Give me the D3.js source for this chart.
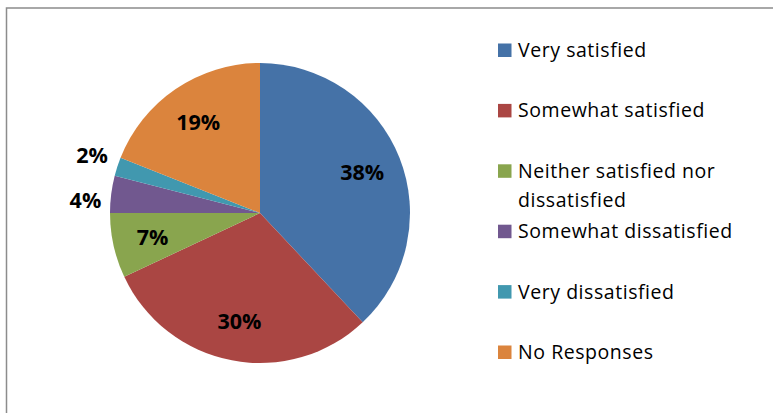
<!DOCTYPE html>
<html>
<head>
<meta charset="utf-8">
<script src="https://cdn.jsdelivr.net/npm/d3@7"></script>
<style>
  html, body { margin: 0; padding: 0; background: #fff; }
  svg { display: block; }
  text { font-variant-ligatures: none; }
</style>
</head>
<body>
<svg id="chart" width="773" height="413"></svg>
<script>
// Survey responses (percent of respondents)
const categories = [
  "Very satisfied",
  "Somewhat satisfied",
  "Neither satisfied nor dissatisfied",
  "Somewhat dissatisfied",
  "Very dissatisfied",
  "No Responses"
];
const values = [38, 30, 7, 4, 2, 19];
const colors = ["#4572A7", "#AA4643", "#89A54E", "#71588F", "#4198AF", "#DB843D"];
// Legend lines (long names wrap onto two lines)
const legendLines = [
  ["Very satisfied"],
  ["Somewhat satisfied"],
  ["Neither satisfied nor", "dissatisfied"],
  ["Somewhat dissatisfied"],
  ["Very dissatisfied"],
  ["No Responses"]
];

const svg = d3.select("#chart");

// Chart area frame (runs off the right and bottom edges)
svg.append("rect")
  .attr("x", 6.5).attr("y", 8)
  .attr("width", 900).attr("height", 600)
  .attr("fill", "none")
  .attr("stroke", "#8c8c8c")
  .attr("stroke-width", 1.5);

const cx = 260, cy = 213, R = 150;
const data = categories.map((c, i) => ({ name: c, value: values[i], color: colors[i] }));

const pie = d3.pie().value(d => d.value).sort(null);
const arcs = pie(data);
const arc = d3.arc().innerRadius(0).outerRadius(R);
const labelArc = d3.arc().innerRadius(110).outerRadius(110);
const outerArc = d3.arc().innerRadius(R + 10).outerRadius(R + 10);

const g = svg.append("g").attr("transform", `translate(${cx},${cy})`);

g.selectAll("path.slice")
  .data(arcs)
  .join("path")
  .attr("class", "slice")
  .attr("d", arc)
  .attr("fill", d => d.data.color);

// Labels: inside for large slices, outside for small ones
const labelFont = "'Open Sans', Lato, sans-serif";
const labels = arcs.map(d => {
  const small = d.data.value < 5;
  const [x, y] = small ? outerArc.centroid(d) : labelArc.centroid(d);
  return { d, small, x, y };
});

// Keep outside labels from overlapping vertically
const outside = labels.filter(l => l.small).sort((a, b) => a.y - b.y);
const minGap = 45;
for (let i = 1; i < outside.length; i++) {
  const a = outside[i - 1], b = outside[i];
  if (b.y - a.y < minGap) {
    const mid = (a.y + b.y) / 2;
    a.y = mid - minGap / 2;
    b.y = mid + minGap / 2;
  }
}

g.selectAll("text.pct")
  .data(labels)
  .join("text")
  .attr("class", "pct")
  .attr("x", l => l.x)
  .attr("y", l => l.y)
  .attr("dy", "0.35em")
  .attr("text-anchor", l => l.small ? "end" : "middle")
  .attr("font-family", labelFont)
  .attr("font-weight", "bold")
  .attr("font-size", 21.5)
  .attr("fill", "#000")
  .text(l => l.d.data.value + "%");

// Legend
const legend = svg.append("g").attr("transform", "translate(498,0)");
const rowY = d3.scaleLinear().domain([0, 5]).range([57, 359]);

const items = legend.selectAll("g.item")
  .data(data)
  .join("g")
  .attr("class", "item")
  .attr("transform", (d, i) => `translate(0,${rowY(i)})`);

items.append("rect")
  .attr("x", 0).attr("y", -13.5)
  .attr("width", 13.5).attr("height", 13.5)
  .attr("fill", d => d.color);

items.append("text")
  .attr("x", 20)
  .attr("font-family", labelFont)
  .attr("font-size", 19.5)
  .attr("letter-spacing", 0.55)
  .attr("fill", "#000")
  .selectAll("tspan")
  .data((d, i) => legendLines[i])
  .join("tspan")
  .attr("x", 20)
  .attr("y", (t, j) => j * 29)
  .text(t => t);
</script>
</body>
</html>
